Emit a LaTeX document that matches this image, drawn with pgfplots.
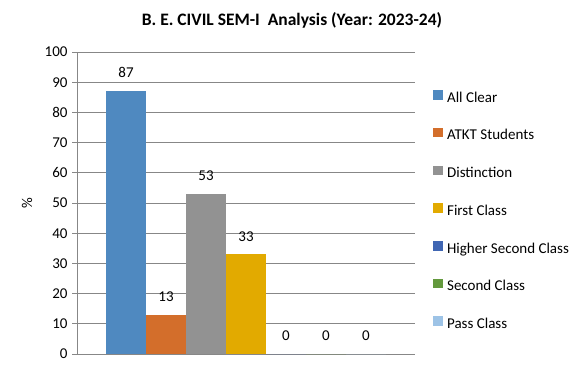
\documentclass[border=0pt]{standalone}
\usepackage{fontspec}
\setmainfont{Carlito}
\usepackage{pgfplots}
\pgfplotsset{compat=1.18}
\definecolor{cA}{HTML}{4F89C0}
\definecolor{cB}{HTML}{D36E2B}
\definecolor{cC}{HTML}{929292}
\definecolor{cD}{HTML}{E2AA00}
\definecolor{cE}{HTML}{4066B3}
\definecolor{cF}{HTML}{63993D}
\definecolor{cG}{HTML}{9DC3E6}
\definecolor{gridc}{HTML}{878787}
\begin{document}
\begin{tikzpicture}
\path[use as bounding box] (0bp,0bp) rectangle (582bp,-370bp);
\begin{axis}[
  at={(77bp,-354bp)}, anchor=south west,
  scale only axis, width=338bp, height=302bp,
  xmin=-1.225, xmax=7.225, ymin=0, ymax=100,
  ytick={0,10,...,100}, xtick=\empty,
  ymajorgrids, grid style={gridc, line width=0.9bp},
  axis x line*=bottom, axis y line*=left,
  axis line style={gridc, line width=0.9bp},
  x axis line style={-}, y axis line style={-},
  major tick style={gridc, line width=0.9bp},
  tick align=outside, major tick length=5bp,
  tick label style={font=\fontsize{15bp}{18bp}\selectfont},
  /pgf/number format/assume math mode=true,
  yticklabel style={xshift=-1bp},
  title={\bfseries B. E. CIVIL SEM-I\ \ Analysis (Year: 2023-24)},
  title style={at={(rel axis cs:0.636,1.085)}, anchor=center, font=\fontsize{17.5bp}{20bp}\selectfont},
  ylabel={\%},
  ylabel style={at={(rel axis cs:-0.148,0.5)}, anchor=center, font=\fontsize{15bp}{18bp}\selectfont},
  nodes near coords,
  every node near coord/.append style={anchor=south, inner sep=0pt, yshift=13bp, font=\fontsize{15bp}{18bp}\selectfont, text=black},
  legend style={draw=none, fill=none, at={(rel axis cs:1.053,0.874)}, anchor=north west, inner sep=0pt, row sep=22.7bp,
    font=\fontsize{15bp}{18bp}\selectfont,
    nodes={inner sep=0pt, text height=11bp, text depth=3bp, anchor=west}},
  legend cell align=left,
  legend image code/.code={\fill[#1] (0bp,-1.5bp) rectangle (9.5bp,8bp);},
  /tikz/every odd column/.append style={column sep=4.5bp},
]
\addplot[ybar, bar width=1, bar shift=0pt, fill=cA, draw=none] coordinates {(0,87)};
\addlegendentry{All Clear}
\addplot[ybar, bar width=1, bar shift=0pt, fill=cB, draw=none] coordinates {(1,13)};
\addlegendentry{ATKT Students}
\addplot[ybar, bar width=1, bar shift=0pt, fill=cC, draw=none] coordinates {(2,53)};
\addlegendentry{Distinction}
\addplot[ybar, bar width=1, bar shift=0pt, fill=cD, draw=none] coordinates {(3,33)};
\addlegendentry{First Class}
\addplot[ybar, bar width=1, bar shift=0pt, fill=cE, draw=none] coordinates {(4,0)};
\addlegendentry{Higher Second Class}
\addplot[ybar, bar width=1, bar shift=0pt, fill=cF, draw=none] coordinates {(5,0)};
\addlegendentry{Second Class}
\addplot[ybar, bar width=1, bar shift=0pt, fill=cG, draw=none] coordinates {(6,0)};
\addlegendentry{Pass Class}
\end{axis}
\end{tikzpicture}
\end{document}
